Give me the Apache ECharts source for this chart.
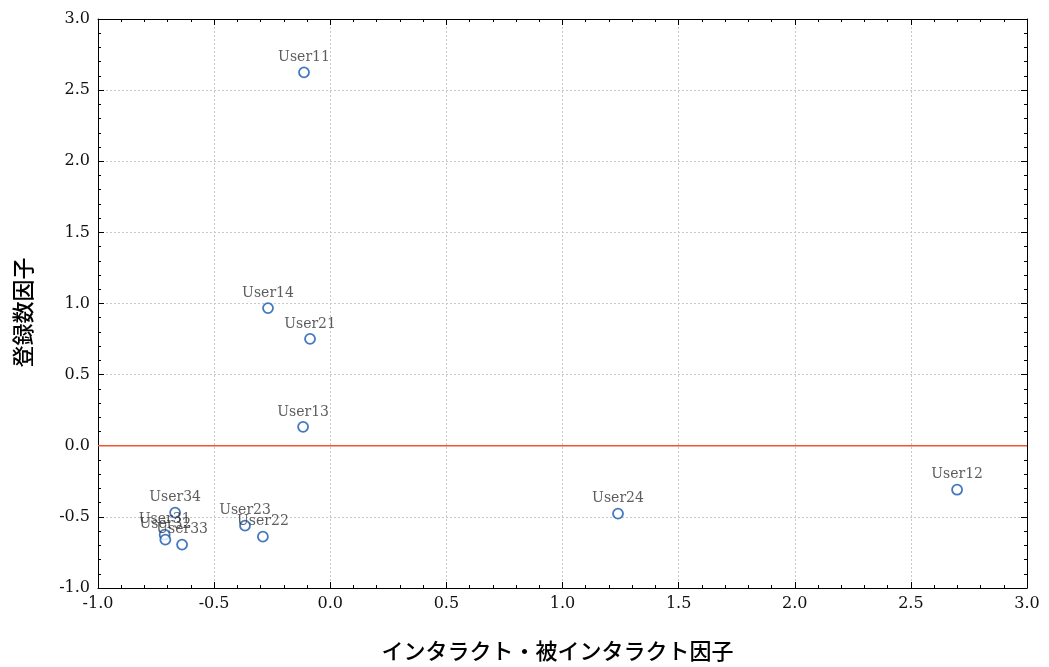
<!DOCTYPE html>
<html>
<head>
<meta charset="utf-8">
<script src="https://cdn.jsdelivr.net/npm/echarts@6/dist/echarts.min.js"></script>
<style>
html,body{margin:0;padding:0;background:#fff;}
#chart{width:1049px;height:667px;}
</style>
</head>
<body>
<div id="chart"></div>
<script>
const users = ['User11','User12','User13','User14','User21','User22','User23','User24','User31','User32','User33','User34'];
const xValues = [-0.113, 2.699, -0.117, -0.268, -0.087, -0.290, -0.367, 1.239, -0.713, -0.710, -0.638, -0.668];
const yValues = [2.625, -0.309, 0.133, 0.968, 0.751, -0.639, -0.561, -0.477, -0.625, -0.660, -0.695, -0.470];
const xTicks = {min: -1.0, max: 3.0, interval: 0.5};
const yTicks = {min: -1.0, max: 3.0, interval: 0.5};
const xName = 'インタラクト・被インタラクト因子';
const yName = '登録数因子';
const refLineY = 0;

const serifFont = '"DejaVu Serif", "Liberation Serif", serif';
const cjkFont = '"Noto Sans CJK JP", "Noto Sans", sans-serif';

const points = users.map((u, i) => ({name: u, value: [xValues[i], yValues[i]]}));

function axisBase(extra) {
  return Object.assign({
    axisLine: {show: true, onZero: false, lineStyle: {color: '#000', width: 1}},
    axisTick: {show: true, inside: true, length: 6, lineStyle: {color: '#000', width: 1}},
    minorTick: {show: true, splitNumber: 5, length: 3, lineStyle: {color: '#000', width: 1}},
    splitLine: {show: false}
  }, extra);
}

const chart = echarts.init(document.getElementById('chart'), null, {renderer: 'canvas'});
chart.setOption({
  backgroundColor: '#fff',
  animation: false,
  grid: {left: 98, right: 22, top: 19, bottom: 78, containLabel: false},
  xAxis: [
    axisBase({
      type: 'value', position: 'bottom', min: xTicks.min, max: xTicks.max, interval: xTicks.interval,
      name: xName, nameLocation: 'middle', nameGap: 52,
      nameTextStyle: {fontFamily: cjkFont, fontSize: 22, color: '#000', fontWeight: 500, padding: [0, 10, 0, 0]},
      axisLabel: {show: true, fontFamily: serifFont, fontSize: 16, color: '#111', margin: 8,
        formatter: v => v.toFixed(1)},
      splitLine: {show: true, lineStyle: {color: '#c8c8c8', type: [2, 2], width: 1}}
    }),
    axisBase({
      type: 'value', position: 'top', min: xTicks.min, max: xTicks.max, interval: xTicks.interval,
      axisLabel: {show: false}
    })
  ],
  yAxis: [
    axisBase({
      type: 'value', position: 'left', min: yTicks.min, max: yTicks.max, interval: yTicks.interval,
      name: yName, nameLocation: 'middle', nameGap: 64, nameRotate: 90,
      nameTextStyle: {fontFamily: cjkFont, fontSize: 22, color: '#000', fontWeight: 500, padding: [0, 18, 0, 0]},
      axisLabel: {show: true, fontFamily: serifFont, fontSize: 16, color: '#111', margin: 8,
        formatter: v => v.toFixed(1)},
      splitLine: {show: true, lineStyle: {color: '#c8c8c8', type: [2, 2], width: 1}}
    }),
    axisBase({
      type: 'value', position: 'right', min: yTicks.min, max: yTicks.max, interval: yTicks.interval,
      axisLabel: {show: false}
    })
  ],
  series: [{
    type: 'line',
    name: 'zero',
    xAxisIndex: 0, yAxisIndex: 0,
    data: [[xTicks.min, refLineY], [xTicks.max, refLineY]],
    showSymbol: false,
    symbol: 'none',
    silent: true,
    lineStyle: {color: '#f2552c', width: 1.5, type: 'solid'},
    itemStyle: {color: '#f2552c'},
    z: 4
  }, {
    type: 'scatter',
    xAxisIndex: 0, yAxisIndex: 0,
    data: points,
    symbol: 'circle',
    symbolSize: 10,
    itemStyle: {color: '#ffffff', borderColor: '#1558b0', borderWidth: 1.8},
    label: {
      show: true, position: 'top', distance: 2,
      formatter: p => p.name,
      fontFamily: serifFont, fontSize: 14, color: '#333'
    },
    labelLayout: {hideOverlap: false},
    z: 5
  }]
});
</script>
</body>
</html>
